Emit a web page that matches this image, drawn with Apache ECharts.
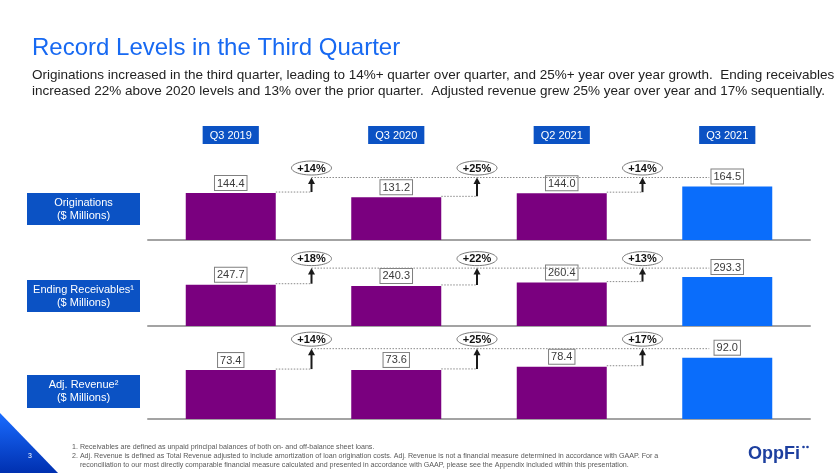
<!DOCTYPE html>
<html>
<head>
<meta charset="utf-8">
<script src="https://cdn.jsdelivr.net/npm/echarts@6/dist/echarts.min.js"></script>
<style>
html,body{margin:0;padding:0;background:#fff;}
#chart{width:840px;height:473px;}
</style>
</head>
<body>
<div id="chart"></div>
<script>
// ---- data ----
const quarters = ['Q3 2019', 'Q3 2020', 'Q2 2021', 'Q3 2021'];
const originations = [144.4, 131.2, 144.0, 164.5];
const receivables = [247.7, 240.3, 260.4, 293.3];
const adjRevenue = [73.4, 73.6, 78.4, 92.0];
const originationsGrowth = ['+14%', '+25%', '+14%'];
const receivablesGrowth = ['+18%', '+22%', '+13%'];
const adjRevenueGrowth = ['+14%', '+25%', '+17%'];
const rowLabels = ['Originations\n($ Millions)', 'Ending Receivables\u00B9\n($ Millions)', 'Adj. Revenue\u00B2\n($ Millions)'];
const yMax = [246, 480, 120];

// ---- style ----
const FONT = '"Liberation Sans", Arial, Helvetica, sans-serif';
const PURPLE = '#7a007f';
const BLUE = '#0a6dfb';
const DARKBLUE = '#0b52c4';
const BAR_W = 90;

const rows = [
  {values: originations, growth: originationsGrowth},
  {values: receivables, growth: receivablesGrowth},
  {values: adjRevenue, growth: adjRevenueGrowth}
];
const gridTops = [160, 246, 339];

const chart = echarts.init(document.getElementById('chart'), null, {renderer: 'canvas'});

const grids = gridTops.map(t => ({left: 148, width: 662, top: t, height: 80, containLabel: false}));
const xAxes = gridTops.map((t, k) => ({
  type: 'category', gridIndex: k, data: quarters,
  axisLine: {show: true, lineStyle: {color: '#a3a3a3', width: 2}},
  axisTick: {show: false}, axisLabel: {show: false}, splitLine: {show: false}
}));
xAxes.push({
  type: 'category', gridIndex: 0, data: quarters, position: 'top',
  axisLine: {show: false}, axisTick: {show: false}, splitLine: {show: false},
  axisLabel: {
    show: true, margin: 16, color: '#fff', fontSize: 11, fontFamily: FONT,
    backgroundColor: DARKBLUE, padding: [4, 7, 3, 7]
  }
});
const yAxes = yMax.map((m, k) => ({
  type: 'value', gridIndex: k, min: 0, max: m, show: false, splitLine: {show: false}
}));

function ellipsePoints(cx, cy, rx, ry) {
  const pts = [];
  const n = 48;
  for (let j = 0; j < n; j++) {
    const a = (j / n) * Math.PI * 2;
    pts.push([cx + rx * Math.cos(a), cy + ry * Math.sin(a)]);
  }
  return pts;
}

const series = [];
rows.forEach((row, k) => {
  series.push({
    type: 'bar', xAxisIndex: k, yAxisIndex: k, barWidth: BAR_W,
    data: row.values.map((v, i) => ({value: v, itemStyle: {color: i === 3 ? BLUE : PURPLE}})),
    label: {
      show: true, position: 'top', distance: 3,
      formatter: p => p.value.toFixed(1),
      fontSize: 11, fontFamily: FONT, color: '#3a3a3a',
      backgroundColor: '#fff', borderColor: '#7f7f7f', borderWidth: 1,
      padding: [2, 2, 1, 2]
    },
    z: 3
  });
  const last = row.values[3];
  series.push({
    type: 'custom', coordinateSystem: 'cartesian2d', xAxisIndex: k, yAxisIndex: k,
    clip: false, z: 4,
    data: row.values.slice(0, 3).map((v, i) => [i, v, last]),
    encode: {x: 0, y: 1},
    renderItem: function (params, api) {
      const i = api.value(0), vi = api.value(1), vl = api.value(2);
      const p = api.coord([i, vi]);
      const pn = api.coord([i + 1, vi]);
      const pl = api.coord([3, vl]);
      const band = api.size([1, 0])[0];
      const ax = (p[0] + pn[0]) / 2 - 2;
      const axNext = i < 2 ? pn[0] + band / 2 - 2 : pl[0] - 18;
      const by = p[1] - 1;
      const ty = pl[1] - 9;
      const dotted = {stroke: '#8a8a8a', lineWidth: 1, lineDash: [1.5, 1.5], fill: null};
      const ecy = ty - 9.5;
      return {
        type: 'group',
        children: [
          {type: 'line', shape: {x1: p[0] + BAR_W / 2, y1: by, x2: ax, y2: by}, style: dotted},
          {type: 'line', shape: {x1: ax, y1: ty, x2: axNext, y2: ty}, style: dotted},
          {type: 'line', shape: {x1: ax, y1: by, x2: ax, y2: ty + 5}, style: {stroke: '#1a1a1a', lineWidth: 2}},
          {type: 'polygon', shape: {points: [[ax, ty], [ax - 3.5, ty + 6.5], [ax + 3.5, ty + 6.5]]}, style: {fill: '#1a1a1a'}},
          {type: 'polygon', shape: {points: ellipsePoints(ax, ecy, 20, 7)}, style: {fill: '#fff', stroke: '#7a7a7a', lineWidth: 1}},
          {type: 'text', style: {text: row.growth[params.dataIndex], x: ax, y: ecy + 0.5, align: 'center', verticalAlign: 'middle',
            font: 'bold 11px ' + FONT, fill: '#111'}}
        ]
      };
    }
  });
});

const rowLabelBoxes = [[193, 32], [280, 32], [375, 33]];
const graphic = [];
// title and subtitle
graphic.push({type: 'text', left: 32, top: 36, style: {text: 'Record Levels in the Third Quarter', font: '24px ' + FONT, fill: '#1769f2'}});
graphic.push({type: 'text', left: 32, top: 67, style: {
  text: 'Originations increased in the third quarter, leading to 14%+ quarter over quarter, and 25%+ year over year growth.  Ending receivables\nincreased 22% above 2020 levels and 13% over the prior quarter.  Adjusted revenue grew 25% year over year and 17% sequentially.',
  font: '13.5px ' + FONT, fill: '#222', lineHeight: 16}});
// row label boxes
rowLabels.forEach((t, k) => {
  const [y, h] = rowLabelBoxes[k];
  graphic.push({type: 'rect', shape: {x: 27, y: y, width: 113, height: h}, style: {fill: DARKBLUE}});
  graphic.push({type: 'text', x: 83.5, y: y + h / 2, style: {text: t, align: 'center', verticalAlign: 'middle', font: '11px ' + FONT, fill: '#fff', lineHeight: 13}});
});
// page corner triangle
graphic.push({type: 'polygon', shape: {points: [[0, 413], [58, 473], [0, 473]]},
  style: {fill: new echarts.graphic.LinearGradient(0, 0, 0, 1, [{offset: 0, color: '#1a6cff'}, {offset: 1, color: '#0030b0'}])}});
graphic.push({type: 'text', x: 30, y: 456, style: {text: '3', align: 'center', verticalAlign: 'middle', font: '7px ' + FONT, fill: '#fff'}});
// footnotes
const notes = [
  ['1. Receivables are defined as unpaid principal balances of both on- and off-balance sheet loans.', 72, 447.5],
  ['2. Adj. Revenue is defined as Total Revenue adjusted to include amortization of loan origination costs. Adj. Revenue is not a financial measure determined in accordance with GAAP. For a', 72, 456.5],
  ['reconciliation to our most directly comparable financial measure calculated and presented in accordance with GAAP, please see the Appendix included within this presentation.', 80, 465.5]
];
notes.forEach(n => graphic.push({type: 'text', x: n[1], y: n[2], style: {text: n[0], verticalAlign: 'middle', font: '7.1px ' + FONT, fill: '#595959'}}));
// logo
graphic.push({type: 'text', x: 748, y: 454, style: {text: 'OppFi', verticalAlign: 'middle', font: 'bold 18px ' + FONT, fill: '#1d3f9f'}});
graphic.push({type: 'circle', shape: {cx: 803.5, cy: 447, r: 1.3}, style: {fill: '#1d3f9f'}});
graphic.push({type: 'circle', shape: {cx: 807.5, cy: 447, r: 1.3}, style: {fill: '#1d3f9f'}});

chart.setOption({
  animation: false,
  backgroundColor: '#fff',
  textStyle: {fontFamily: FONT},
  grid: grids,
  xAxis: xAxes,
  yAxis: yAxes,
  series: series,
  graphic: graphic
});
</script>
</body>
</html>
